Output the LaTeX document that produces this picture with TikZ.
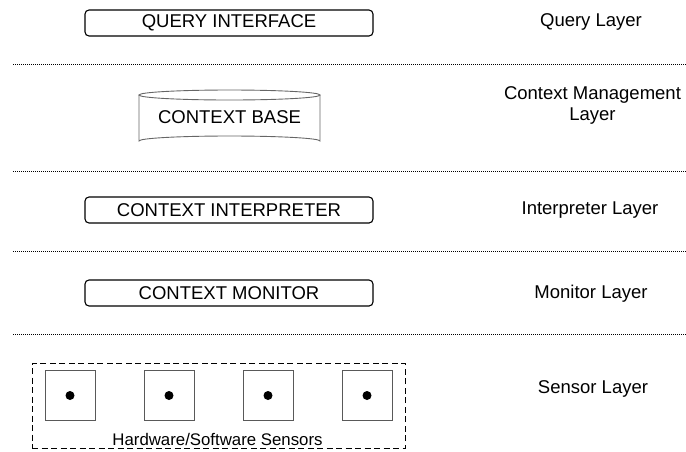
\documentclass[tikz,border=0pt]{standalone}
\usepackage{fontspec}
\setmainfont{Liberation Sans}
\usetikzlibrary{positioning}

\begin{document}
\begin{tikzpicture}[x=1pt,y=-1pt,
    every node/.style={font=\fontsize{18.5}{21}\selectfont},
    component/.style={draw, rounded corners=4pt, line width=1.1pt, minimum width=288pt, minimum height=26pt, inner sep=0pt},
    layerlabel/.style={align=center, inner sep=0pt},
    separator/.style={line width=0.9pt, dash pattern=on 1pt off 1pt},
    sensorbox/.style={draw=black!65, line width=1pt, minimum size=50pt, inner sep=0pt},
  ]
  \useasboundingbox (0,0) rectangle (686,451);
  % layer separators
  \foreach \y in {64,171,251,334}
    \draw[separator] (13,\y) -- (686,\y);
  % components
  \node[component] (query) at (229,23) {QUERY INTERFACE};
  \node[inner sep=0pt] (base) at (229.5,117) {CONTEXT BASE};
  \draw[draw=black!60, line width=0.9pt] (229.5,95) ellipse[x radius=90.5, y radius=5];
  \draw[draw=black!60, line width=0.9pt] (139,95) -- (139,141)
    arc[start angle=180, end angle=360, x radius=90.5, y radius=5] -- (320,95);
  \node[component] (interp) at (229,210) {CONTEXT INTERPRETER};
  \node[component] (monitor) at (229,293) {CONTEXT MONITOR};
  % sensors
  \node[draw, line width=1pt, dash pattern=on 6pt off 3.5pt, minimum width=373pt, minimum height=85pt, inner sep=0pt] (sensors) at (218.5,405.5) {};
  \foreach \i/\x in {1/70,2/169,3/268,4/367} {
    \node[sensorbox] (s\i) at (\x,395.5) {};
    \fill (s\i.center) circle[radius=4.5];
  }
  \node[font=\fontsize{16.8}{20}\selectfont, inner sep=0pt] (hwsw) at (217.5,439) {Hardware/Software Sensors};
  % layer labels
  \node[layerlabel] (ql) at (591,22) {Query Layer};
  \node[layerlabel] (cml) at (592.5,105) {Context Management\\Layer};
  \node[layerlabel] (il) at (590,210) {Interpreter Layer};
  \node[layerlabel] (ml) at (591,294) {Monitor Layer};
  \node[layerlabel] (sl) at (593,389) {Sensor Layer};
\end{tikzpicture}
\end{document}
